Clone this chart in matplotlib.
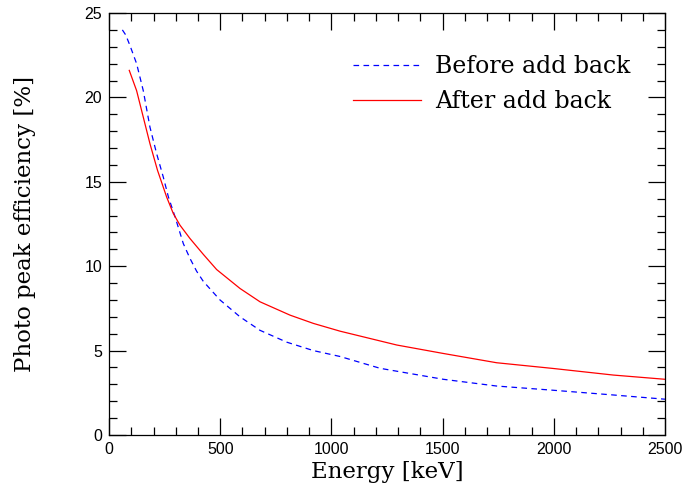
"""Photo peak efficiency before/after add back."""

import matplotlib.pyplot as plt
from matplotlib.ticker import MultipleLocator

# values
energy_before = [60, 75, 94, 124, 154, 184, 214, 244, 267, 297, 334, 364, 394,
                 424, 499, 589, 679, 799, 919, 1039, 1219, 1503, 1743, 1998,
                 2268, 2500]
eff_before = [24.0, 23.7, 23.08, 22.0, 20.4, 18.24, 16.67, 15.28, 14.1, 12.92,
              11.34, 10.46, 9.7, 9.1, 8.0, 7.0, 6.2, 5.5, 5.0, 4.65, 3.95,
              3.3, 2.9, 2.65, 2.37, 2.12]

energy_after = [91, 124, 154, 184, 218, 259, 289, 319, 364, 424, 484, 589, 679,
                814, 919, 1039, 1294, 1503, 1743, 1998, 2268, 2500]
eff_after = [21.6, 20.4, 18.83, 17.26, 15.68, 14.1, 13.12, 12.43, 11.64, 10.7,
             9.8, 8.68, 7.89, 7.10, 6.61, 6.15, 5.33, 4.83, 4.28, 3.94, 3.55,
             3.3]

serif = ["DejaVu Serif"]

fig = plt.figure(figsize=(6.84, 4.87), dpi=100)
ax = fig.add_axes([0.1594, 0.1068, 0.8128, 0.8665])

ax.plot(energy_before, eff_before, color="blue", lw=0.9,
        dashes=(4.5, 3.5), label="Before add back")
ax.plot(energy_after, eff_after, color="red", lw=0.9, label="After add back")

ax.set_xlim(0, 2500)
ax.set_ylim(0, 25)
ax.xaxis.set_major_locator(MultipleLocator(500))
ax.xaxis.set_minor_locator(MultipleLocator(100))
ax.yaxis.set_major_locator(MultipleLocator(5))
ax.yaxis.set_minor_locator(MultipleLocator(1))
ax.tick_params(which="both", direction="in", top=True, right=True, width=0.9)
ax.tick_params(which="major", length=12, pad=5)
ax.tick_params(which="minor", length=6)
for lab in ax.get_xticklabels() + ax.get_yticklabels():
    lab.set_family("Liberation Sans")
    lab.set_fontsize(11.5)
for sp in ax.spines.values():
    sp.set_linewidth(0.9)

ax.set_xlabel("Energy [keV]", family=serif, fontsize=16.5, labelpad=3)
ax.set_ylabel("Photo peak efficiency [%]", family=serif, fontsize=16.5)
ax.yaxis.set_label_coords(-0.131, 0.5)

ax.legend(loc="upper left", frameon=False, prop={"family": serif, "size": 17},
          handlelength=2.88, handletextpad=0.59, labelspacing=0.52,
          borderpad=0, borderaxespad=0, bbox_to_anchor=(0.439, 0.9))

fig.savefig("out.png", dpi=100)
plt.close(fig)
